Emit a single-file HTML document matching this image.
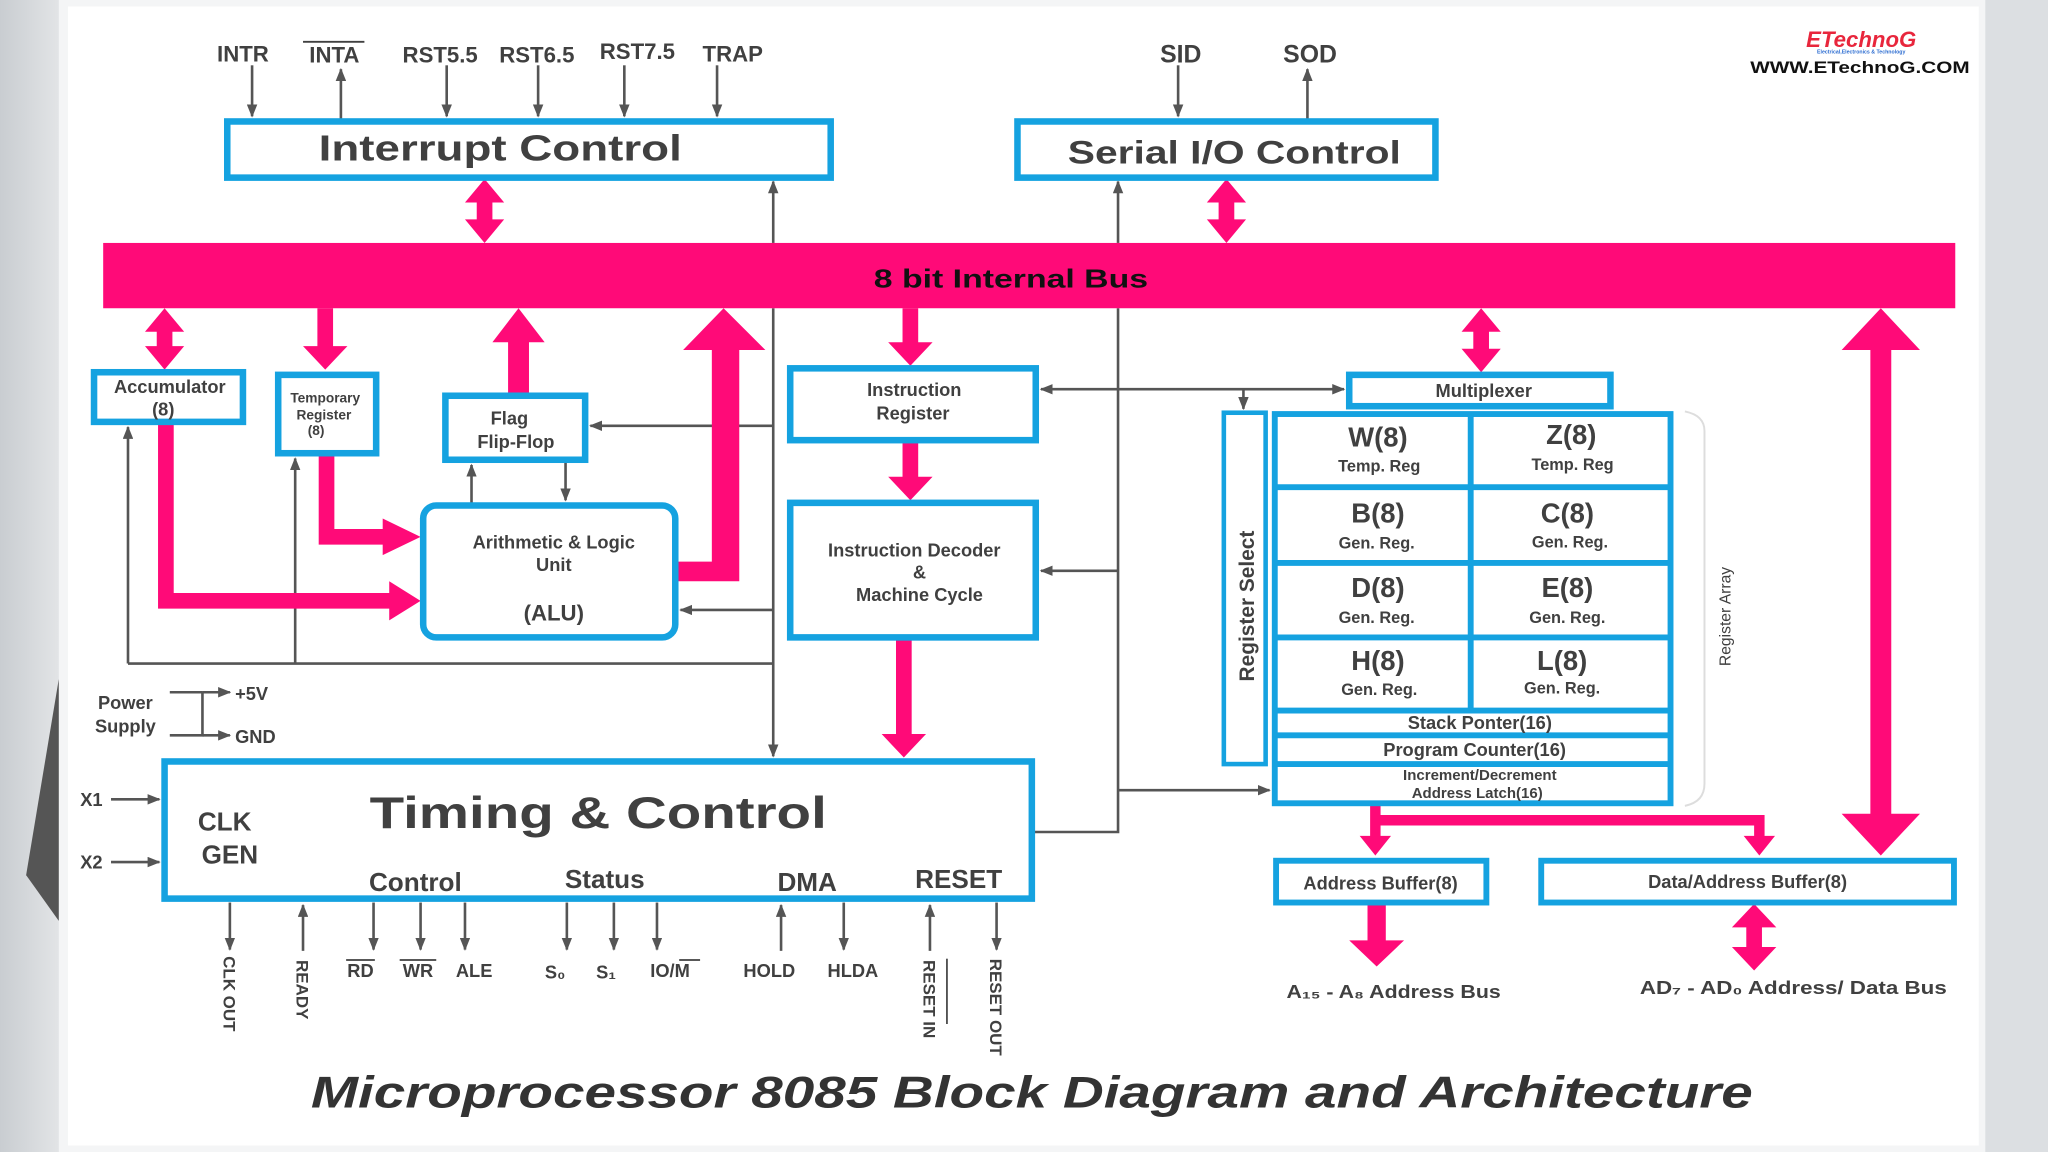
<!DOCTYPE html>
<html><head><meta charset="utf-8"><style>
html,body{margin:0;padding:0;width:2048px;height:1152px;overflow:hidden;background:#d9dcdf}
svg{display:block}
text{font-family:"Liberation Sans",sans-serif;font-weight:bold;fill:#404040}
</style></head><body>
<svg width="2048" height="1152" viewBox="0 0 1568 882" xmlns="http://www.w3.org/2000/svg">
<defs>
<marker id="a" markerWidth="10" markerHeight="8" refX="9" refY="4" orient="auto" markerUnits="userSpaceOnUse"><path d="M0,0 L10,4 L0,8 z" fill="#555"/></marker>
<linearGradient id="lg" x1="0" x2="1"><stop offset="0" stop-color="#c9cdd1"/><stop offset="1" stop-color="#e2e4e6"/></linearGradient>
</defs>
<rect x="0" y="0" width="45" height="882" fill="url(#lg)"/>
<rect x="1520" y="0" width="48" height="882" fill="#dcdfe2"/>
<rect x="45" y="0" width="1475" height="882" fill="#f4f5f6"/>
<rect x="52" y="5" width="1463" height="872" fill="#fff"/>
<polygon points="45,520 20,670 45,705" fill="#555"/>

<g stroke="#555" stroke-width="2" fill="none" marker-end="url(#a)">
<line x1="193" y1="50" x2="193" y2="89"/>
<line x1="261" y1="92" x2="261" y2="53"/>
<line x1="342" y1="50" x2="342" y2="89"/>
<line x1="412" y1="50" x2="412" y2="89"/>
<line x1="478" y1="50" x2="478" y2="89"/>
<line x1="549" y1="50" x2="549" y2="89"/>
<line x1="902" y1="50" x2="902" y2="89"/>
<line x1="1001" y1="92" x2="1001" y2="53"/>
<line x1="592" y1="186" x2="592" y2="139"/>
<line x1="856" y1="186" x2="856" y2="139"/>
<line x1="592" y1="236" x2="592" y2="579"/>
<line x1="592" y1="326" x2="452" y2="326"/>
<line x1="592" y1="467" x2="521" y2="467"/>
<line x1="361" y1="386" x2="361" y2="356"/>
<line x1="433" y1="353" x2="433" y2="383"/>
<line x1="98" y1="508" x2="98" y2="327"/>
<line x1="226" y1="508" x2="226" y2="351"/>
<line x1="856" y1="437" x2="797" y2="437"/>
<line x1="900" y1="298" x2="797" y2="298"/>
<line x1="900" y1="298" x2="1029" y2="298"/>
<line x1="952" y1="298" x2="952" y2="313"/>
<line x1="856" y1="605" x2="972" y2="605"/>
<line x1="155" y1="530" x2="176" y2="530"/>
<line x1="155" y1="563" x2="176" y2="563"/>
<line x1="85" y1="612" x2="122" y2="612"/>
<line x1="85" y1="660" x2="122" y2="660"/>
<line x1="176" y1="691" x2="176" y2="727"/>
<line x1="232" y1="728" x2="232" y2="693"/>
<line x1="286" y1="691" x2="286" y2="727"/>
<line x1="322" y1="691" x2="322" y2="727"/>
<line x1="356" y1="691" x2="356" y2="727"/>
<line x1="434" y1="691" x2="434" y2="727"/>
<line x1="470" y1="691" x2="470" y2="727"/>
<line x1="503" y1="691" x2="503" y2="727"/>
<line x1="598" y1="728" x2="598" y2="693"/>
<line x1="646" y1="691" x2="646" y2="727"/>
<line x1="712" y1="728" x2="712" y2="693"/>
<line x1="763" y1="691" x2="763" y2="727"/>
</g>
<g stroke="#555" stroke-width="2" fill="none">
<polyline points="98,508 592,508"/>
<polyline points="856,236 856,637 792,637"/>
<polyline points="155,530 155,563 130,563"/>
<line x1="130" y1="530" x2="155" y2="530"/>
</g>
<path d="M1290,315 Q1305,318 1305,330 L1305,600 Q1305,614 1290,617" stroke="#ddd" stroke-width="1.5" fill="none"/>

<rect x="79" y="186" width="1418" height="50" fill="#ff0a78"/>
<text x="774" y="220" font-size="20" text-anchor="middle" textLength="210" lengthAdjust="spacingAndGlyphs" style="fill:#111">8 bit Internal Bus</text>

<g fill="#ff0a78">
<polygon points="371,137 356,155 365,155 365,168 356,168 371,186 386,168 377,168 377,155 386,155"/>
<polygon points="939,137 924,155 933,155 933,168 924,168 939,186 954,168 945,168 945,155 954,155"/>
<polygon points="126,236 111,254 120,254 120,265 111,265 126,283 141,265 132,265 132,254 141,254"/>
<polygon points="1134,236 1119,254 1128,254 1128,267 1119,267 1134,285 1149,267 1140,267 1140,254 1149,254"/>
<polygon points="243,236 255,236 255,265 266,265 249,283 232,265 243,265"/>
<polygon points="691,236 703,236 703,262 714,262 697,280 680,262 691,262"/>
<polygon points="691,338 703,338 703,365 714,365 697,383 680,365 691,365"/>
<polygon points="686,489 698,489 698,562 709,562 692,580 675,562 686,562"/>
<polygon points="389,301 405,301 405,262 417,262 397,236 377,262 389,262"/>
<polygon points="518,430 545,430 545,268 523,268 554,236 586,268 566,268 566,445 518,445"/>
<polygon points="121,324 133,324 133,454 298,454 298,445 322,460 298,475 298,466 121,466"/>
<polygon points="244,348 256,348 256,405 293,405 293,397 322,411 293,425 293,417 244,417"/>
<polygon points="1440,236 1410,268 1432,268 1432,623 1410,623 1440,655 1470,623 1448,623 1448,268 1470,268"/>
<polygon points="1049,617 1057,617 1057,624 1351,624 1351,640 1359,640 1347,655 1335,640 1343,640 1343,632 1057,632 1057,640 1065,640 1053,655 1041,640 1049,640"/>
<polygon points="1047,692 1061,692 1061,720 1075,720 1054,740 1033,720 1047,720"/>
<polygon points="1343,692 1326,710 1337,710 1337,725 1326,725 1343,743 1360,725 1349,725 1349,710 1360,710"/>
</g>

<g fill="#fff" stroke="#15a2e0" stroke-width="5">
<rect x="174" y="93" width="462" height="43"/>
<rect x="779" y="93" width="320" height="43"/>
<rect x="72" y="285" width="114" height="38"/>
<rect x="213" y="287" width="75" height="60"/>
<rect x="341" y="303" width="107" height="49"/>
<rect x="324" y="387" width="193" height="101" rx="10"/>
<rect x="605" y="282" width="188" height="55"/>
<rect x="605" y="385" width="188" height="103"/>
<rect x="1033" y="287" width="200" height="24"/>
<rect x="937" y="316" width="32" height="269" stroke-width="3.5"/>
<rect x="976" y="317" width="303" height="298" stroke-width="4.5"/>
<rect x="977" y="659" width="161" height="32" stroke-width="4.5"/>
<rect x="1180" y="659" width="316" height="32" stroke-width="4.5"/>
<rect x="126" y="583" width="664" height="105"/>
</g>
<g stroke="#15a2e0" stroke-width="4.5">
<line x1="1126" y1="317" x2="1126" y2="544"/>
<line x1="976" y1="373" x2="1279" y2="373"/>
<line x1="976" y1="431" x2="1279" y2="431"/>
<line x1="976" y1="488" x2="1279" y2="488"/>
<line x1="976" y1="544" x2="1279" y2="544"/>
<line x1="976" y1="563" x2="1279" y2="563"/>
<line x1="976" y1="585" x2="1279" y2="585"/>
</g>

<g font-size="17">
<text x="186" y="47" text-anchor="middle">INTR</text>
<text x="256" y="48" text-anchor="middle">INTA</text>
<text x="337" y="48" text-anchor="middle">RST5.5</text>
<text x="411" y="48" text-anchor="middle">RST6.5</text>
<text x="488" y="45" text-anchor="middle">RST7.5</text>
<text x="561" y="47" text-anchor="middle">TRAP</text>
<text x="904" y="48" text-anchor="middle" font-size="19">SID</text>
<text x="1003" y="48" text-anchor="middle" font-size="19">SOD</text>
</g>
<line x1="232" y1="32" x2="279" y2="32" stroke="#404040" stroke-width="1.5"/>
<text x="383" y="123" font-size="28" text-anchor="middle" textLength="278" lengthAdjust="spacingAndGlyphs">Interrupt Control</text>
<text x="945" y="125" font-size="25" text-anchor="middle" textLength="255" lengthAdjust="spacingAndGlyphs">Serial I/O Control</text>
<text x="1425" y="36" font-size="17" text-anchor="middle" font-style="italic" style="fill:#e8263c">ETechnoG</text>
<text x="1425" y="41" font-size="4" text-anchor="middle" style="fill:#2a6bd0">Electrical,Electronics &amp; Technology</text>
<text x="1424" y="56" font-size="13" text-anchor="middle" textLength="168" lengthAdjust="spacingAndGlyphs" style="fill:#111">WWW.ETechnoG.COM</text>

<g font-size="14" text-anchor="middle">
<text x="130" y="301">Accumulator</text>
<text x="125" y="318">(8)</text>
<text x="700" y="303">Instruction</text>
<text x="699" y="321">Register</text>
<text x="390" y="325">Flag</text>
<text x="395" y="343">Flip-Flop</text>
<text x="424" y="420">Arithmetic &amp; Logic</text>
<text x="424" y="437">Unit</text>
<text x="424" y="475" font-size="17">(ALU)</text>
<text x="700" y="426">Instruction Decoder</text>
<text x="704" y="443">&amp;</text>
<text x="704" y="460">Machine Cycle</text>
<text x="1136" y="304">Multiplexer</text>
<text x="1133" y="558">Stack Ponter(16)</text>
<text x="1129" y="579">Program Counter(16)</text>
<text x="1057" y="681">Address Buffer(8)</text>
<text x="1338" y="680">Data/Address Buffer(8)</text>
</g>
<g font-size="10.5" text-anchor="middle">
<text x="249" y="308">Temporary</text>
<text x="248" y="321">Register</text>
<text x="242" y="333">(8)</text>
</g>
<g font-size="21" text-anchor="middle">
<text x="1055" y="342">W(8)</text><text x="1203" y="340">Z(8)</text>
<text x="1055" y="400">B(8)</text><text x="1200" y="400">C(8)</text>
<text x="1055" y="457">D(8)</text><text x="1200" y="457">E(8)</text>
<text x="1055" y="513">H(8)</text><text x="1196" y="513">L(8)</text>
</g>
<g font-size="12.5" text-anchor="middle">
<text x="1056" y="361">Temp. Reg</text><text x="1204" y="360">Temp. Reg</text>
<text x="1054" y="420">Gen. Reg.</text><text x="1202" y="419">Gen. Reg.</text>
<text x="1054" y="477">Gen. Reg.</text><text x="1200" y="477">Gen. Reg.</text>
<text x="1056" y="532">Gen. Reg.</text><text x="1196" y="531">Gen. Reg.</text>
</g>
<g font-size="11.5" text-anchor="middle">
<text x="1133" y="597">Increment/Decrement</text>
<text x="1131" y="611">Address Latch(16)</text>
</g>
<text transform="translate(960,464) rotate(-90)" font-size="16" text-anchor="middle">Register Select</text>
<text transform="translate(1325,472) rotate(-90)" font-size="12" text-anchor="middle" style="font-weight:normal">Register Array</text>

<text x="458" y="634" font-size="34" text-anchor="middle" textLength="350" lengthAdjust="spacingAndGlyphs">Timing &amp; Control</text>
<text x="172" y="636" font-size="20" text-anchor="middle">CLK</text>
<text x="176" y="661" font-size="20" text-anchor="middle">GEN</text>
<text x="318" y="682" font-size="20" text-anchor="middle">Control</text>
<text x="463" y="680" font-size="20" text-anchor="middle">Status</text>
<text x="618" y="682" font-size="20" text-anchor="middle">DMA</text>
<text x="734" y="680" font-size="20" text-anchor="middle">RESET</text>

<g font-size="14">
<text x="96" y="543" text-anchor="middle">Power</text>
<text x="96" y="561" text-anchor="middle">Supply</text>
<text x="180" y="536">+5V</text>
<text x="180" y="569">GND</text>
<text x="70" y="617" text-anchor="middle">X1</text>
<text x="70" y="665" text-anchor="middle">X2</text>
<text x="276" y="748" text-anchor="middle">RD</text>
<text x="320" y="748" text-anchor="middle">WR</text>
<text x="363" y="748" text-anchor="middle">ALE</text>
<text x="425" y="749" text-anchor="middle">S₀</text>
<text x="464" y="749" text-anchor="middle">S₁</text>
<text x="513" y="748" text-anchor="middle">IO/M</text>
<text x="589" y="748" text-anchor="middle">HOLD</text>
<text x="653" y="748" text-anchor="middle">HLDA</text>
<text x="1067" y="764" text-anchor="middle" textLength="164" lengthAdjust="spacingAndGlyphs">A₁₅ - A₈ Address Bus</text>
<text x="1373" y="761" text-anchor="middle" textLength="235" lengthAdjust="spacingAndGlyphs">AD₇ - AD₀ Address/ Data Bus</text>
</g>
<g stroke="#404040" stroke-width="1.3">
<line x1="265" y1="735" x2="287" y2="735"/>
<line x1="306" y1="735" x2="334" y2="735"/>
<line x1="520" y1="735" x2="536" y2="735"/>
<line x1="725" y1="734" x2="725" y2="784"/>
</g>
<g font-size="13">
<text transform="translate(171,732) rotate(90)">CLK OUT</text>
<text transform="translate(227,735) rotate(90)">READY</text>
<text transform="translate(707,735) rotate(90)">RESET IN</text>
<text transform="translate(758,734) rotate(90)">RESET OUT</text>
</g>
<text x="790" y="848" font-size="34" text-anchor="middle" font-style="italic" textLength="1104" lengthAdjust="spacingAndGlyphs" style="fill:#333">Microprocessor 8085 Block Diagram and Architecture</text>
</svg>
</body></html>
